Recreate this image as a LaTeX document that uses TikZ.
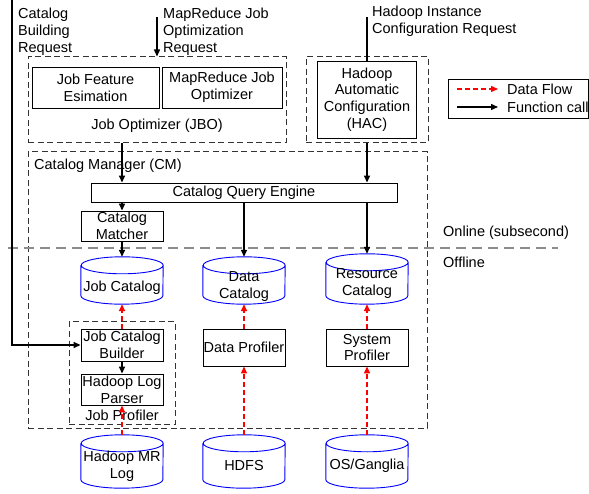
\documentclass[tikz,border=0pt]{standalone}
\usepackage{fontspec}
\setmainfont{Liberation Sans}
\usetikzlibrary{arrows.meta,calc}
\tikzset{
  box/.style={draw=black, line width=0.9pt, inner sep=0pt, rectangle},
  dbox/.style={draw=black!80, line width=1pt, dash pattern=on 6pt off 3.5pt, inner sep=0pt, rectangle},
  cylbody/.style={inner sep=0pt, rectangle, minimum width=82pt},
  cylline/.style={draw=blue, line width=0.9pt},
  txt/.style={inner sep=0pt, align=center},
  ltxt/.style={inner sep=0pt, align=left, anchor=west},
  fc/.style={draw=black, line width=1.4pt, -{Triangle[length=7pt,width=6pt]}},
  df/.style={draw=red, line width=1.4pt, dash pattern=on 5pt off 3pt, -{Triangle[length=7pt,width=6pt]}},
  plainline/.style={draw=black, line width=1.4pt},
}
\newcommand{\drawcyl}[1]{%
  \draw[cylline] ([yshift=-8.5pt]#1.north west) -- ([yshift=8.5pt]#1.south west)
    arc[start angle=180,end angle=360,x radius=41pt,y radius=8.5pt]
    -- ([yshift=-8.5pt]#1.north east)
    arc[start angle=0,end angle=180,x radius=41pt,y radius=8.5pt]
    arc[start angle=180,end angle=360,x radius=41pt,y radius=8.5pt];}
\begin{document}
\begin{tikzpicture}[x=1pt,y=1pt,font=\fontsize{14.5}{16.8}\selectfont]
\useasboundingbox (0,0) rectangle (589,-494);

% request texts
\node[ltxt] (cbrt) at (18,-31.5) {Catalog\\Building\\Request};
\node[ltxt] (mrrt) at (163,-31.5) {MapReduce Job\\Optimization\\Request};
\node[ltxt] (hirt) at (372,-21.5) {Hadoop Instance\\Configuration Request};

% JBO
\node[dbox, minimum width=258pt, minimum height=86pt] (jbo) at (157,-100) {};
\node[box, minimum width=127pt, minimum height=41pt, align=center] (jfe) at (95.5,-87.5) {Job Feature\\Esimation};
\node[box, minimum width=120pt, minimum height=41pt, align=center] (mrjo) at (222,-87.5) {MapReduce Job\\Optimizer};
\node[txt] (jbol) at (157,-126) {Job Optimizer (JBO)};

% HAC
\node[dbox, minimum width=122pt, minimum height=86pt] (hacd) at (367,-100) {};
\node[box, minimum width=99pt, minimum height=77pt, align=center] (hac) at (367,-99.5) {Hadoop\\Automatic\\Configuration\\(HAC)};

% legend
\node[box, minimum width=140pt, minimum height=39pt] (leg) at (518,-98.5) {};
\coordinate (l1a) at (457,-89);
\coordinate (l1b) at (498,-89);
\coordinate (l2a) at (457,-107);
\coordinate (l2b) at (498,-107);
\node[ltxt] (l1t) at (507,-89) {Data Flow};
\node[ltxt] (l2t) at (507,-107) {Function call};

% CM
\node[dbox, minimum width=399pt, minimum height=276pt] (cm) at (227.5,-290) {};
\node[ltxt] (cml) at (34,-166) {Catalog Manager (CM)};
\node[box, minimum width=306pt, minimum height=19pt] (cqe) at (244,-192.5) {};
\node[txt] (cqet) at (244,-192.5) {Catalog Query Engine};
\node[box, minimum width=82pt, minimum height=30pt, align=center] (cmatch) at (122,-226) {Catalog\\Matcher};

% online/offline
\coordinate (ola) at (8,-248);
\coordinate (olb) at (558,-248);
\draw[draw=black!45, line width=1.5pt, dash pattern=on 10pt off 6pt] (ola) -- (olb);
\node[ltxt] (onl) at (443,-233) {Online (subsecond)};
\node[ltxt] (offl) at (443,-262) {Offline};

% catalogs
\node[cylbody, minimum height=47pt] (jc) at (122,-280.5) {};
\node[cylbody, minimum height=47pt] (dc) at (244,-280.5) {};
\node[cylbody, minimum height=50pt] (rc) at (367,-279) {};
\drawcyl{jc}\drawcyl{dc}\drawcyl{rc}
\node[txt] (jct) at (122,-288) {Job Catalog};
\node[txt] (dct) at (244,-286.5) {Data\\Catalog};
\node[txt] (rct) at (367,-283.5) {Resource\\Catalog};

% profilers
\node[dbox, minimum width=106pt, minimum height=102pt] (jp) at (122,-373) {};
\node[box, minimum width=82pt, minimum height=32pt, align=center] (jcb) at (122,-345) {Job Catalog\\Builder};
\node[box, minimum width=82pt, minimum height=31pt, align=center] (hlp) at (122,-389.5) {Hadoop Log\\Parser};
\node[txt] (jpl) at (122,-415) {Job Profiler};
\node[box, minimum width=82pt, minimum height=37pt] (dp) at (244,-347.5) {Data Profiler};
\node[box, minimum width=82pt, minimum height=37pt, align=center] (sp) at (367,-347.5) {System\\Profiler};

% sources
\node[cylbody, minimum height=53pt] (hmr) at (122,-461.5) {};
\node[cylbody, minimum height=53pt] (hdfs) at (244,-461.5) {};
\node[cylbody, minimum height=53pt] (os) at (367,-461.5) {};
\drawcyl{hmr}\drawcyl{hdfs}\drawcyl{os}
\node[txt] (hmrt) at (122,-466.5) {Hadoop MR\\Log};
\node[txt] (hdfst) at (244,-466) {HDFS};
\node[txt] (ost) at (367,-466) {OS/Ganglia};

% function calls
\coordinate (cbr) at (12,0);
\coordinate (mrr) at (157,-17);
\coordinate (hir) at (367,-17);
\draw[fc] (cbr) |- (jcb.west);
\draw[fc] (mrr) -- (jbo.north);
\draw[plainline] (hir) -- (hac.north);
\draw[fc] (hacd.south) -- (hacd.south |- cqe.north);
\draw[fc] (cmatch.north |- jbo.south) -- (cmatch.north |- cqe.north);
\draw[fc] (cmatch.north |- cqe.south) -- (cmatch.north);
\draw[fc] (cmatch.south) -- (jc.north);
\draw[fc] (dc.north |- cqe.south) -- (dc.north);
\draw[fc] (rc.north |- cqe.south) -- (rc.north);
\draw[fc] (jcb.south) -- (hlp.north);
\draw[fc] (l2a) -- (l2b);

% data flows
\draw[df] (jcb.north) -- (jc.south);
\draw[df] (hmr.north) -- (hlp.south);
\draw[df] (dp.north) -- (dc.south);
\draw[df] (hdfs.north) -- (dp.south);
\draw[df] (sp.north) -- (rc.south);
\draw[df] (os.north) -- (sp.south);
\draw[df] (l1a) -- (l1b);
\end{tikzpicture}
\end{document}
